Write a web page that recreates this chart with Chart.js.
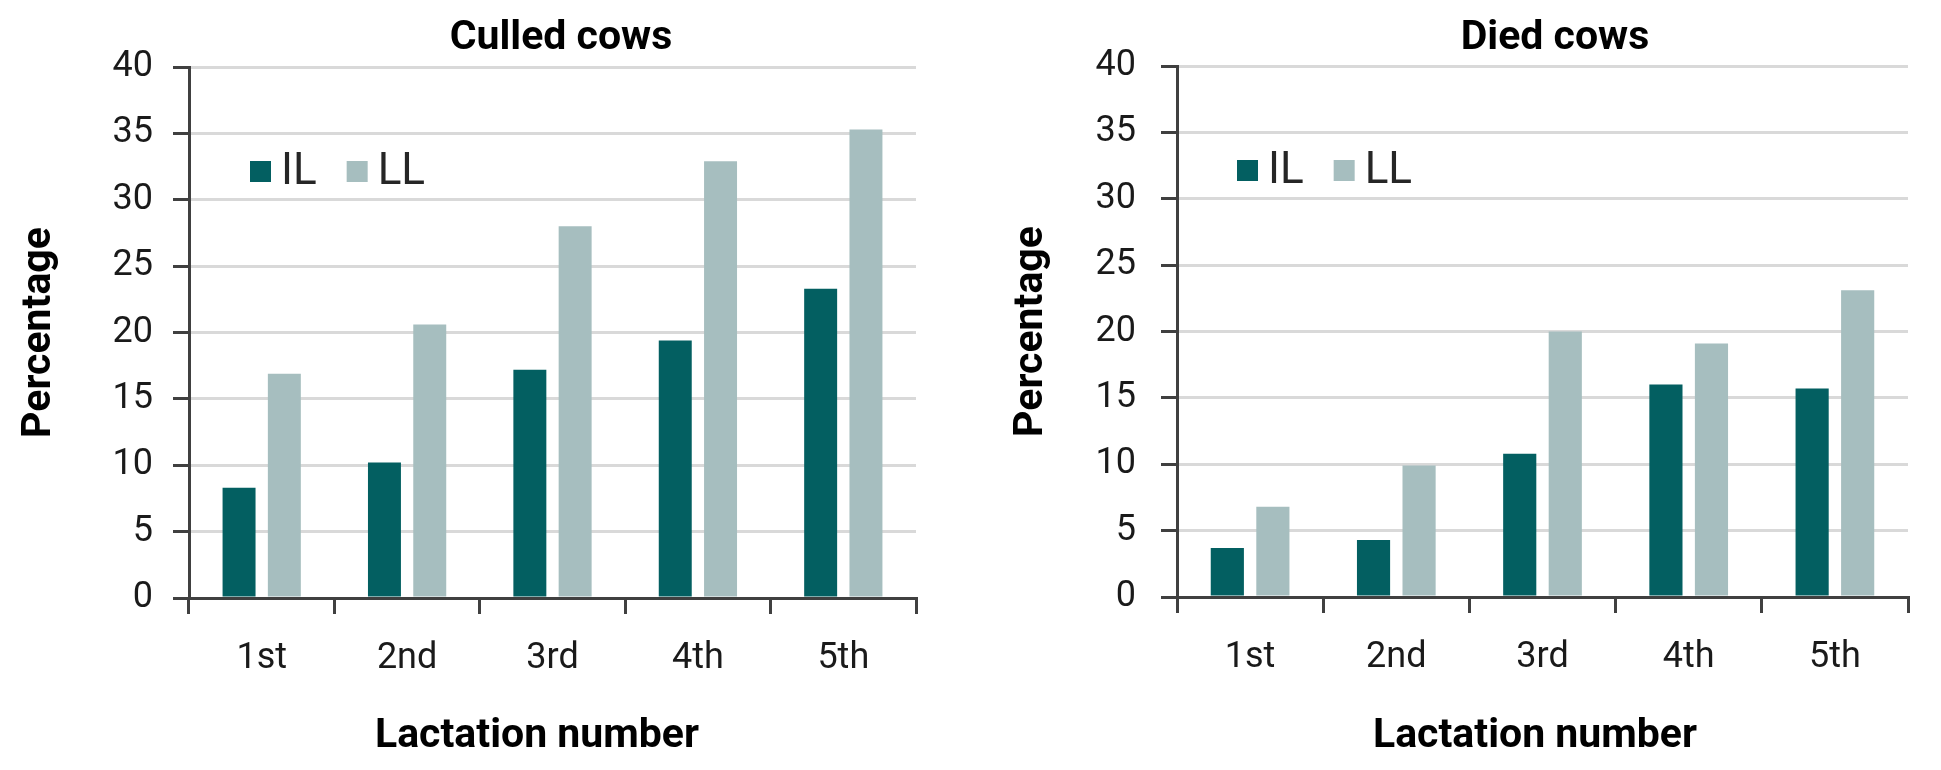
<!DOCTYPE html>
<html>
<head>
<meta charset="utf-8">
<script src="https://cdn.jsdelivr.net/npm/chart.js@4"></script>
<style>
  body { margin: 0; background: #fff; }
  canvas { position: absolute; top: 0; }
  #culled { left: 0; }
  #died { left: 970px; }
</style>
</head>
<body>
<canvas id="culled" width="970" height="770"></canvas>
<canvas id="died" width="971" height="770"></canvas>
<script>
const lactations = ['1st', '2nd', '3rd', '4th', '5th']
const seriesNames = ['IL', 'LL']

const culledIL = [8.3, 10.2, 17.2, 19.4, 23.3]
const culledLL = [16.9, 20.6, 28.0, 32.9, 35.3]
const diedIL = [3.7, 4.3, 10.8, 16.0, 15.7]
const diedLL = [6.8, 9.9, 20.0, 19.1, 23.1]

const yMin = 0
const yMax = 40
const yStep = 5

const IL_COLOR = '#035F61'
const LL_COLOR = '#A6BEBF'
const AXIS = '#404040'
const GRID = '#D9D9D9'

Chart.defaults.font.family = 'Roboto'
Chart.defaults.color = '#1a1a1a'

// legend sits inside the plot, top left
const innerLegend = {
    id: 'innerLegend',
    afterDraw(chart, args, opts) {
        const { ctx, chartArea } = chart
        let x = chartArea.left + opts.x
        const y = chartArea.top + opts.y
        ctx.save()
        ctx.font = '44px Roboto'
        ctx.textBaseline = 'alphabetic'
        chart.data.datasets.forEach(ds => {
            ctx.fillStyle = ds.backgroundColor
            ctx.fillRect(x, y - 10.5, 21, 21)
            ctx.fillStyle = '#262626'
            ctx.fillText(ds.label, x + 31, y + 12)
            x += 31 + ctx.measureText(ds.label).width + 30
        })
        ctx.restore()
    }
}

// title and caption are not centred on the canvas in the original
const shiftTitles = {
    id: 'shiftTitles',
    afterLayout(chart, args, opts) {
        chart.boxes.forEach(b => {
            if (!b.options || typeof b.options.text !== 'string') return
            const dx = b === chart.titleBlock ? opts.title : opts.caption
            b.left += dx
            b.right += dx
        })
    }
}

function makeChart(id, cfg) {
    const ctx = document.getElementById(id).getContext('2d')
    return new Chart(ctx, {
        type: 'bar',
        data: {
            labels: lactations,
            datasets: [
                { label: seriesNames[0], data: cfg.il, backgroundColor: IL_COLOR },
                { label: seriesNames[1], data: cfg.ll, backgroundColor: LL_COLOR }
            ]
        },
        plugins: [innerLegend, shiftTitles],
        options: {
            responsive: false,
            animation: false,
            devicePixelRatio: 1,
            events: [],
            categoryPercentage: 0.623,
            barPercentage: 0.728,
            layout: { padding: { left: 0, right: cfg.padRight, top: 0, bottom: 0 } },
            plugins: {
                legend: { display: false },
                tooltip: { enabled: false },
                title: {
                    display: true,
                    text: cfg.title,
                    color: '#000',
                    font: { size: 41, weight: 'bold' },
                    padding: { top: 14.4, bottom: cfg.top - 49.2 - 14.4 }
                },
                subtitle: {
                    display: true,
                    position: 'bottom',
                    text: 'Lactation number',
                    color: '#000',
                    font: { size: 41, weight: 'bold' },
                    padding: { top: 0, bottom: 8.4 }
                },
                innerLegend: { x: cfg.legendX, y: 104.5 },
                shiftTitles: { title: cfg.titleDx, caption: cfg.captionDx }
            },
            scales: {
                x: {
                    offset: true,
                    grid: { offset: true, drawOnChartArea: false, color: AXIS, lineWidth: 3, tickLength: 16 },
                    border: { color: AXIS, width: 3 },
                    ticks: { font: { size: 36 }, padding: 23 },
                    afterFit: s => { s.height = 770 - 57.6 - cfg.bottom }
                },
                y: {
                    min: yMin,
                    max: yMax,
                    ticks: { stepSize: yStep, font: { size: 36 }, padding: cfg.yTickPad },
                    grid: { color: GRID, lineWidth: 3, tickColor: AXIS, tickWidth: 3, tickLength: 16 },
                    border: { color: AXIS, width: 3 },
                    title: {
                        display: true,
                        text: 'Percentage',
                        color: '#000',
                        font: { size: 41, weight: 'bold' },
                        padding: { top: cfg.yTitlePad, bottom: 0 }
                    },
                    afterFit: s => { s.width = cfg.yAxisWidth }
                }
            }
        }
    })
}

makeChart('culled', {
    title: 'Culled cows',
    il: culledIL,
    ll: culledLL,
    top: 67,
    bottom: 598,
    yAxisWidth: 189,
    padRight: 54,
    yTickPad: 20,
    yTitlePad: 15,
    legendX: 61,
    titleDx: 103,
    captionDx: 79
})

makeChart('died', {
    title: 'Died cows',
    il: diedIL,
    ll: diedLL,
    top: 66,
    bottom: 597,
    yAxisWidth: 207,
    padRight: 33,
    yTickPad: 25,
    yTitlePad: 37,
    legendX: 60,
    titleDx: 116,
    captionDx: 96
})
</script>
</body>
</html>
